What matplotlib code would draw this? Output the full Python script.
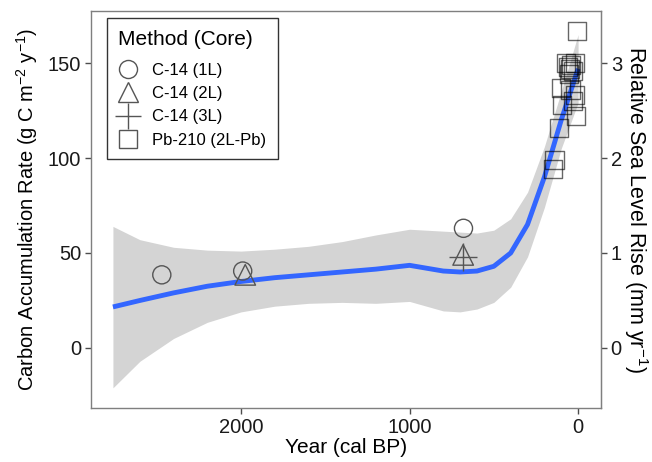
import matplotlib
matplotlib.use("Agg")
import matplotlib.pyplot as plt
from matplotlib.lines import Line2D

plt.rcParams['font.family'] = ['Liberation Sans', 'DejaVu Sans']
plt.rcParams['mathtext.fontset'] = 'custom'
plt.rcParams['mathtext.rm'] = 'Liberation Sans'
plt.rcParams['mathtext.it'] = 'Liberation Sans:italic'

# data (year cal BP, carbon accumulation rate)
c14_1L_year = [2470, 1990, 680]
c14_1L_car = [38.5, 40.5, 63]
c14_2L_year = [1975, 682]
c14_2L_car = [38.5, 49]
c14_3L_year = [682]
c14_3L_car = [48]
pb210_year = [6, 20, 40, 60, 30, 50, 70, 55, 100, 45, 20, 95, 30, 10, 115, 140, 150]
pb210_car = [167, 150, 149, 148, 146, 147, 150, 144, 137, 136, 133, 128, 130, 122, 116, 99, 94]

# smoothed fit with confidence band
fit_year = [2760, 2600, 2400, 2200, 2000, 1800, 1600, 1400, 1200, 1000,
            900, 800, 700, 600, 500, 400, 300, 200, 100, 0]
fit_car = [21.6, 25, 29, 32.5, 35, 37, 38.5, 40, 41.5, 43.5,
           42, 40.5, 40, 40.5, 43, 50, 65, 90, 120, 147]
fit_hi = [64, 57, 53, 51.5, 51, 52, 53.5, 56, 59.5, 62.5,
          62, 61.5, 61, 60.5, 62, 68, 82, 106, 135, 165]
fit_lo = [-21, -7, 5, 13.5, 19, 22, 23.5, 24, 23.5, 24.5,
          22, 19.5, 19, 20.5, 24, 32, 48, 74, 105, 129]

fig = plt.figure(figsize=(6.52, 4.62), dpi=100)
ax = fig.add_axes([0.1396, 0.1169, 0.7822, 0.8593])

ax.fill_between(fit_year, fit_lo, fit_hi, color='#D4D4D4', lw=0, zorder=1)
ax.plot(fit_year, fit_car, color='#3366FF', lw=3.5, zorder=2, solid_capstyle='butt')

mk = dict(facecolors='none', linewidths=1.0, zorder=3)
ax.scatter(c14_1L_year, c14_1L_car, marker='o', s=170, edgecolors='#555555', **mk)
ax.scatter(c14_2L_year, c14_2L_car, marker='^', s=220, edgecolors='#555555', **mk)
ax.scatter(c14_3L_year, c14_3L_car, marker='+', s=380, color='#555555', linewidths=1.0, zorder=3)
ax.scatter(pb210_year, pb210_car, marker='s', s=170, edgecolors=(0, 0, 0, 0.6), **mk)

ax.set_xlim(2890, -136)
ax.set_ylim(-31.6, 177.4)
ax.set_xticks([2000, 1000, 0])
ax.set_yticks([0, 50, 100, 150])

for sp in ax.spines.values():
    sp.set_color('#7F7F7F')
    sp.set_linewidth(1.0)
ax.tick_params(direction='out', length=4, width=1, color='#4D4D4D',
               labelsize=14.5, labelcolor='#1A1A1A', pad=3)

ax.set_xlabel('Year (cal BP)', fontsize=15, labelpad=1)
ax.set_ylabel('Carbon Accumulation Rate (g C m$^{-2}$ y$^{-1}$)', fontsize=14.5, labelpad=6)

sec = ax.secondary_yaxis('right', functions=(lambda y: y / 50, lambda y: y * 50))
sec.set_yticks([0, 1, 2, 3])
sec.spines['right'].set_color('#7F7F7F')
sec.tick_params(direction='out', length=4, width=1, color='#4D4D4D',
                labelsize=14.5, labelcolor='#1A1A1A', pad=3)
sec.set_ylabel('Relative Sea Level Rise (mm yr$^{-1}$)', fontsize=15.5,
               rotation=270, labelpad=20)

handles = [
    Line2D([], [], marker='o', ls='none', ms=13, mfc='none', mec='#555555', mew=1),
    Line2D([], [], marker='^', ls='none', ms=15, mfc='none', mec='#555555', mew=1),
    Line2D([], [], marker='+', ls='none', ms=19, mec='#555555', mew=1),
    Line2D([], [], marker='s', ls='none', ms=13, mfc='none', mec='#555555', mew=1),
]
labels = ['C-14 (1L)', 'C-14 (2L)', 'C-14 (3L)', 'Pb-210 (2L-Pb)']
leg = ax.legend(handles, labels, title='Method (Core)', loc='upper left',
                bbox_to_anchor=(0.031, 0.982), borderaxespad=0, fontsize=12,
                title_fontsize=15, fancybox=False, framealpha=1,
                edgecolor='#333333', handlelength=1.2, handletextpad=0.8,
                labelspacing=0.5, borderpad=0.7)
leg._legend_box.align = 'left'
leg._legend_box.sep = 10
leg.get_frame().set_linewidth(1.0)

plt.savefig('out.png', dpi=100)
